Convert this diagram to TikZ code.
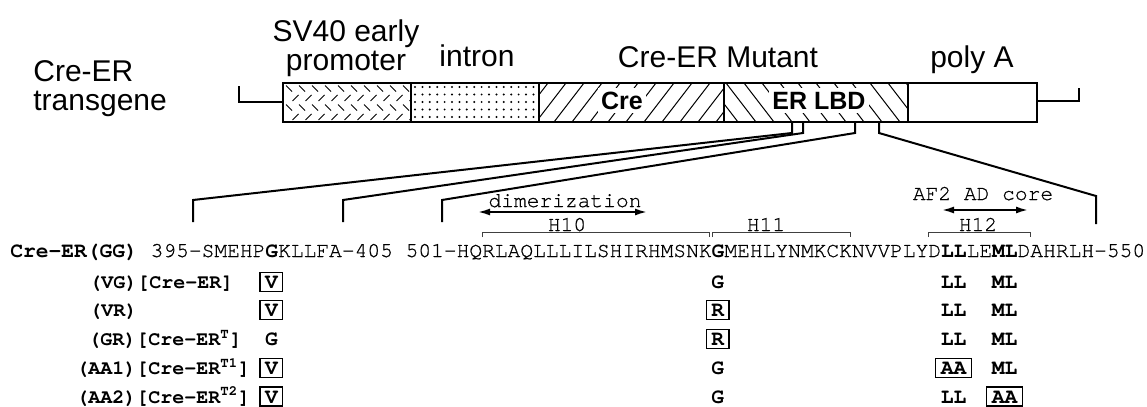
\documentclass[tikz,border=0pt]{standalone}
\usepackage{fontspec}
\setmainfont{Liberation Sans}
\setmonofont{texgyrecursor}[Extension=.otf, UprightFont=*-regular, BoldFont=*-bold, ItalicFont=*-italic, BoldItalicFont=*-bolditalic, UprightFeatures={FakeBold=0.7}]
\usetikzlibrary{calc,positioning,arrows.meta}

% x position of a residue column in the sequence line
\newcommand{\res}[1]{10+12.75*#1}

\tikzset{
  bigtext/.style={font=\fontsize{15}{14.5}\selectfont, inner sep=0pt},
  boxtext/.style={font=\bfseries\fontsize{12.5}{14}\selectfont, fill=white, inner xsep=1.5pt, inner ysep=2pt},
  seqtext/.style={font=\ttfamily\fontsize{10.625}{12}\selectfont, inner sep=0pt},
  rowname/.style={font=\ttfamily\bfseries\fontsize{10}{12}\selectfont, inner sep=0pt, anchor=base west},
  mut/.style={font=\ttfamily\bfseries\fontsize{10.625}{12}\selectfont, text height=6.5pt, text depth=0pt, inner xsep=2.5pt, inner ysep=1.5pt},
  mutbox/.style={mut, draw, line width=0.6pt},
  hatch/.style={line width=0.5pt},
  seg/.style={draw, line width=0.8pt},
  conn/.style={line width=1pt},
  helix/.style={line width=0.4pt, black!75},
  domarrow/.style={line width=0.9pt, {Latex[length=6pt,width=3.5pt]}-{Latex[length=6pt,width=3.5pt]}}
}

\begin{document}
\begin{tikzpicture}[x=0.5pt, y=-0.5pt]
\useasboundingbox (0,0) rectangle (1147,407);
%\draw[help lines, step=50] (0,0) grid (1147,407);

% transgene
\node[bigtext, align=left, anchor=west] (tg) at (33,89) {Cre-ER\\transgene};
\node[bigtext, align=center] (sv) at (346,48.5) {SV40 early\\promoter};
\node[bigtext, anchor=base] (in) at (477,66) {intron};
\node[bigtext, anchor=base] (mu) at (718,67) {Cre-ER Mutant};
\node[bigtext, anchor=base] (pa) at (972,67) {poly A};

\begin{scope}
\clip (283,83) rectangle (411,122);
\foreach \r in {0,...,3}
  \foreach \c in {0,...,9} {
    \pgfmathsetmacro{\px}{289+\c*13+mod(\r,2)*6.5}
    \pgfmathsetmacro{\py}{88.5+\r*9.5}
    \pgfmathsetmacro{\s}{1-2*mod(\r,2)}
    \draw[hatch] (\px-3,\py-3*\s) -- (\px+3,\py+3*\s);
  }
\end{scope}
\foreach \r in {0,...,4}
  \foreach \c in {0,...,16}
    \fill (415+\c*7.4,87+\r*7.5) circle (0.55pt);
\begin{scope}
\clip (539,83) rectangle (724,122);
\foreach \x in {500,518,...,740} \draw[hatch] (\x,122) -- (\x+30,83);
\end{scope}
\begin{scope}
\clip (724,83) rectangle (908,122);
\foreach \x in {690,708,...,920} \draw[hatch] (\x,83) -- (\x+30,122);
\end{scope}

\draw[seg] (283,83) rectangle (411,122);
\draw[seg] (411,83) rectangle (539,122);
\draw[seg] (539,83) rectangle (724,122);
\draw[seg] (724,83) rectangle (908,122);
\draw[seg] (908,83) rectangle (1037,122);
\draw[seg] (239,86) -- (239,102) -- (283,102);
\draw[seg] (1037,101) -- (1079,101) -- (1079,88);

\node[boxtext, anchor=base] (cre) at (622,109) {Cre};
\node[boxtext, anchor=base] (lbd) at (819,109) {ER LBD};

% sequence
\node[seqtext, anchor=base west] (seq) at (10,257) {\textbf{Cre-ER(GG)} 395-SMEHP\textbf{G}KLLFA-405 501-HQRLAQLLLILSHIRHMSNK\textbf{G}MEHLYNMKCKNVVPLYD\textbf{LL}LE\textbf{ML}DAHRLH-550};

\coordinate (b1) at (792,122);
\coordinate (b2) at (803,122);
\coordinate (b3) at (855,122);
\coordinate (b4) at (879,122);
\coordinate (s1) at (193,222);
\coordinate (s2) at (343,222);
\coordinate (s3) at (442,222);
\coordinate (s4) at (1096,224);
\draw[conn] (b1) -- ($(b1)+(0,11)$) -- ($(s1)+(0,-22)$) -- (s1);
\draw[conn] (b2) -- ($(b2)+(0,11)$) -- ($(s2)+(0,-22)$) -- (s2);
\draw[conn] (b3) -- ($(b3)+(0,11)$) -- ($(s3)+(0,-22)$) -- (s3);
\draw[conn] (b4) -- ($(b4)+(0,11)$) -- ($(s4)+(0,-28)$) -- (s4);

% helices
\draw[helix] ({\res{37}+1},237) -- ({\res{37}+1},232) -- ({\res{55}-2},232) -- ({\res{55}-2},237);
\draw[helix] ({\res{55}+1},237) -- ({\res{55}+1},232) -- ({\res{66}-1},232) -- ({\res{66}-1},237);
\draw[helix] ({\res{72}},237) -- ({\res{72}},232) -- ({\res{80}},232) -- ({\res{80}},237);
\node[seqtext, anchor=base] (h10) at (567,231) {H10};
\node[seqtext, anchor=base] (h11) at (766,231) {H11};
\node[seqtext, anchor=base] (h12) at (978,231) {H12};

\node[seqtext, anchor=base] (dim) at (565,207) {dimerization};
\coordinate (d1) at (478,212);
\coordinate (d2) at (647,212);
\draw[domarrow] (d1) -- (d2);
\node[seqtext, anchor=base] (af2) at (983,200) {AF2 AD core};
\coordinate (a1) at (942,210);
\coordinate (a2) at (1028,210);
\draw[domarrow] (a1) -- (a2);

% mutants
\node[rowname] (vg) at (89,288.5) {(VG)[Cre-ER]};
\node[mutbox] (vg-1) at ({\res{20.5}},282) {V};
\node[mut] (vg-2) at ({\res{55.5}},282) {G};
\node[mut] (vg-3) at ({\res{74}},282) {LL};
\node[mut] (vg-4) at ({\res{78}},282) {ML};

\node[rowname] (vr) at (89,316.5) {(VR)};
\node[mutbox] (vr-1) at ({\res{20.5}},310) {V};
\node[mutbox] (vr-2) at ({\res{55.5}},310) {R};
\node[mut] (vr-3) at ({\res{74}},310) {LL};
\node[mut] (vr-4) at ({\res{78}},310) {ML};

\node[rowname] (gr) at (88,345.5) {(GR)[Cre-ER\textsuperscript{T}]};
\node[mut] (gr-1) at ({\res{20.5}},339) {G};
\node[mutbox] (gr-2) at ({\res{55.5}},339) {R};
\node[mut] (gr-3) at ({\res{74}},339) {LL};
\node[mut] (gr-4) at ({\res{78}},339) {ML};

\node[rowname] (aa1) at (76,374.5) {(AA1)[Cre-ER\textsuperscript{T1}]};
\node[mutbox] (aa1-1) at ({\res{20.5}},368) {V};
\node[mut] (aa1-2) at ({\res{55.5}},368) {G};
\node[mutbox] (aa1-3) at ({\res{74}},368) {AA};
\node[mut] (aa1-4) at ({\res{78}},368) {ML};

\node[rowname] (aa2) at (76,403) {(AA2)[Cre-ER\textsuperscript{T2}]};
\node[mutbox] (aa2-1) at ({\res{20.5}},396.5) {V};
\node[mut] (aa2-2) at ({\res{55.5}},396.5) {G};
\node[mut] (aa2-3) at ({\res{74}},396.5) {LL};
\node[mutbox] (aa2-4) at ({\res{78}},396.5) {AA};

\end{tikzpicture}
\end{document}
